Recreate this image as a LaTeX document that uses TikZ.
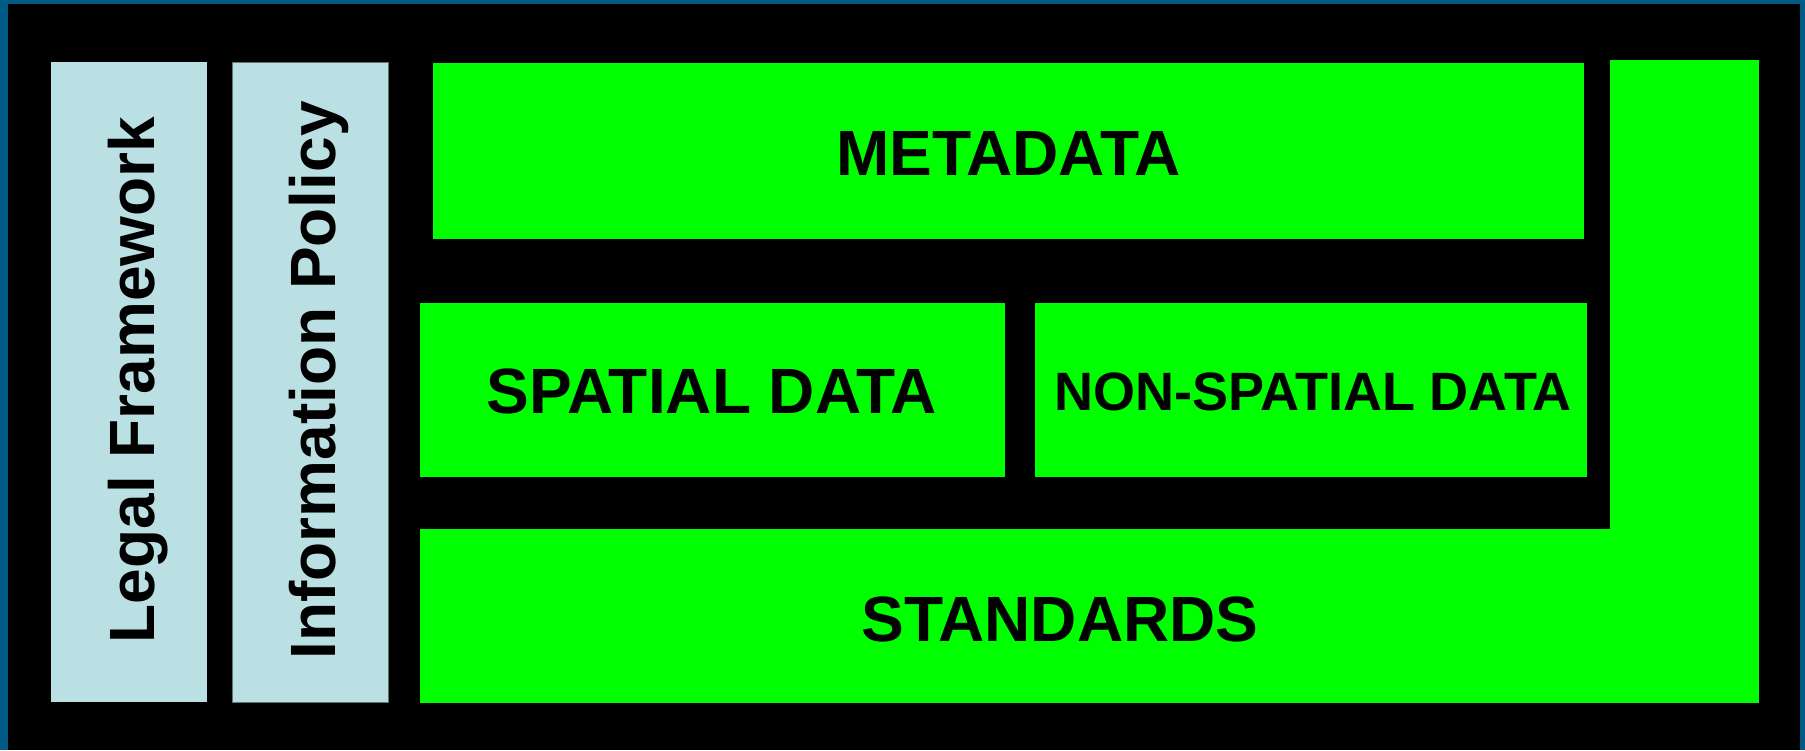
\documentclass[tikz,border=0pt]{standalone}
\usepackage{fontspec}
\setmainfont{Liberation Sans}
\definecolor{frameblue}{HTML}{005A86}
\definecolor{lblue}{HTML}{BAE0E4}
\definecolor{lgreen}{HTML}{00FF00}
\definecolor{edgegray}{HTML}{5E7474}
\begin{document}
\begin{tikzpicture}[x=1pt,y=-1pt,
  box/.style={anchor=north west,inner sep=0pt,outer sep=0pt,draw=none},
  bluebox/.style={box,fill=lblue},
  greenbox/.style={box,fill=lgreen},
  bigtxt/.style={font=\fontsize{64}{70}\selectfont\bfseries,text=black,inner sep=0pt},
  midtxt/.style={font=\fontsize{54}{60}\selectfont\bfseries,text=black,inner sep=0pt}]
\useasboundingbox (0,0) rectangle (1805,750);
\fill[frameblue] (0,0) rectangle (1805,750);
\fill[black] (8,4) rectangle (1800,750);
% side columns
\node[bluebox,minimum width=156pt,minimum height=640pt] (legal) at (51,62) {};
\node[bluebox,draw=edgegray,line width=0.8pt,minimum width=156pt,minimum height=640pt] (policy) at (232.5,62) {};
\node[bigtxt,rotate=90,anchor=base] (legaltxt) at (154,380) {Legal Framework};
\node[bigtxt,rotate=90,anchor=base] (policytxt) at (335,380.5) {Information Policy};
% green blocks
\node[greenbox,minimum width=1151pt,minimum height=176pt] (meta) at (433,63) {};
\node[greenbox,minimum width=585pt,minimum height=174pt] (spatial) at (420,303) {};
\node[greenbox,minimum width=552pt,minimum height=174pt] (nonspatial) at (1035,303) {};
\node[greenbox,minimum width=1339pt,minimum height=174pt] (standards) at (420,529) {};
\node[greenbox,minimum width=149pt,minimum height=643pt] (rightcol) at (1610,60) {};
% labels
\node[bigtxt,anchor=base] (metatxt) at (1008.5,175) {METADATA};
\node[bigtxt,anchor=base] (spatialtxt) at (712,413) {SPATIAL DATA};
\node[midtxt,anchor=base] (nonspatialtxt) at (1313,410) {NON-SPATIAL DATA};
\node[bigtxt,anchor=base] (standardstxt) at (1060,641) {STANDARDS};
\end{tikzpicture}
\end{document}
